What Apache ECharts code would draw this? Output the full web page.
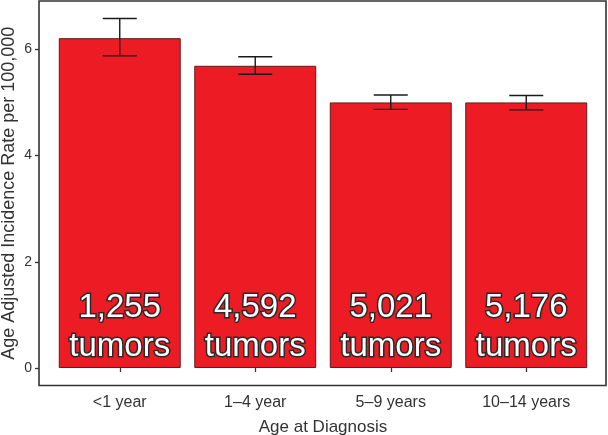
<!DOCTYPE html>
<html>
<head>
<meta charset="utf-8">
<script src="https://cdn.jsdelivr.net/npm/echarts@6/dist/echarts.min.js"></script>
<style>
html,body{margin:0;padding:0;background:#fff;}
#chart{width:608px;height:435px;}
</style>
</head>
<body>
<div id="chart"></div>
<script>
var categories = ['<1 year', '1\u20134 year', '5\u20139 years', '10\u201314 years'];
var rates = [6.21, 5.69, 5.00, 5.00];
var lowerCI = [5.88, 5.53, 4.87, 4.86];
var upperCI = [6.58, 5.86, 5.14, 5.13];
var tumorCounts = [1255, 4592, 5021, 5176];
var yTicks = [0, 2, 4, 6];

var FONT = '"Liberation Sans", Arial, Helvetica, sans-serif';
var errData = categories.map(function (c, i) { return [i, lowerCI[i], upperCI[i]]; });

var chart = echarts.init(document.getElementById('chart'), null, {renderer: 'canvas'});
chart.setOption({
  animation: false,
  backgroundColor: '#fff',
  grid: [
    {left: 52, right: 14, top: 1, bottom: 49.5, outerBoundsMode: 'none', containLabel: false},
    {left: 39, right: 2, top: 1, bottom: 49.5, outerBoundsMode: 'none', containLabel: false, show: true, borderColor: '#333', borderWidth: 1.6, backgroundColor: 'transparent', z: 10}
  ],
  xAxis: [
    {
      type: 'category', gridIndex: 0, data: categories,
      axisLine: {show: false},
      axisTick: {show: true, alignWithLabel: true, length: 4, lineStyle: {color: '#333', width: 1.3}},
      axisLabel: {margin: 9, fontFamily: FONT, fontSize: 16, color: '#333'},
      name: 'Age at Diagnosis', nameLocation: 'middle', nameGap: 33, nameMoveOverlap: false,
      nameTextStyle: {fontFamily: FONT, fontSize: 17, color: '#333'}
    },
    {type: 'value', gridIndex: 1, show: false, min: 0, max: 1}
  ],
  yAxis: [
    {
      type: 'value', gridIndex: 0, min: -0.33, max: 6.91, offset: 13,
      axisLine: {show: false},
      splitLine: {show: false},
      axisTick: {show: true, length: 4, customValues: yTicks, lineStyle: {color: '#333', width: 1.3}},
      axisLabel: {margin: 7, fontFamily: FONT, fontSize: 14, color: '#333', customValues: yTicks},
      name: 'Age Adjusted Incidence Rate per 100,000', nameLocation: 'middle', nameGap: 21, nameMoveOverlap: false,
      nameTextStyle: {fontFamily: FONT, fontSize: 18, color: '#333'}
    },
    {type: 'value', gridIndex: 1, show: false, min: 0, max: 1}
  ],
  series: [
    {
      type: 'bar', xAxisIndex: 0, yAxisIndex: 0,
      data: rates, barWidth: '90%',
      itemStyle: {color: '#ED1C24', borderColor: '#5a1c1c', borderWidth: 1},
      label: {
        show: true, position: 'insideBottom', distance: 2,
        formatter: function (p) { return tumorCounts[p.dataIndex].toLocaleString('en-US') + '\ntumors'; },
        fontFamily: FONT, fontSize: 33, lineHeight: 39, color: '#fff',
        textBorderColor: '#2a2a2a', textBorderWidth: 3
      }
    },
    {
      type: 'custom', xAxisIndex: 0, yAxisIndex: 0, z: 5,
      data: errData,
      encode: {x: 0, y: [1, 2]},
      renderItem: function (params, api) {
        var i = api.value(0);
        var lo = api.coord([i, api.value(1)]);
        var hi = api.coord([i, api.value(2)]);
        var hw = 17;
        var st = {stroke: '#1a1a1a', lineWidth: 1.4};
        return {
          type: 'group',
          children: [
            {type: 'line', shape: {x1: lo[0], y1: lo[1], x2: hi[0], y2: hi[1]}, style: st},
            {type: 'line', shape: {x1: lo[0] - hw, y1: lo[1], x2: lo[0] + hw, y2: lo[1]}, style: st},
            {type: 'line', shape: {x1: hi[0] - hw, y1: hi[1], x2: hi[0] + hw, y2: hi[1]}, style: st}
          ]
        };
      }
    }
  ]
});
</script>
</body>
</html>
